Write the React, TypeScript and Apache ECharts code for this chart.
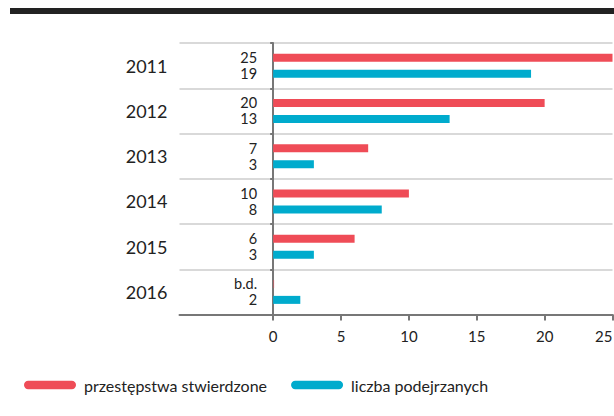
import React, { useEffect, useRef } from "react";
import * as echarts from "echarts";

const years = ["2011", "2012", "2013", "2014", "2015", "2016"];
const crimes: (number | null)[] = [25, 20, 7, 10, 6, null];
const suspects = [19, 13, 3, 8, 3, 2];
const xTicks = [0, 5, 10, 15, 20, 25];
const seriesNames = ["przestępstwa stwierdzone", "liczba podejrzanych"];
const missingLabel = "b.d.";

const RED = "#EF4C57";
const BLUE = "#00ABCD";

export default function App() {
  const ref = useRef<HTMLDivElement>(null);
  useEffect(() => {
    if (!ref.current) return;
    const chart = echarts.init(ref.current, null, { renderer: "svg" });
    const pill = "path://M4,0 H46 A4,4 0 0 1 46,8 H4 A4,4 0 0 1 4,0 Z";
    const valueLabel = {
      show: true,
      position: "left",
      distance: 16,
      fontSize: 14.5,
      lineHeight: 14,
      color: "#222",
      fontFamily: "Lato",
    };
    chart.setOption({
      animation: false,
      textStyle: { fontFamily: "Lato" },
      graphic: [
        { type: "rect", shape: { x: 10, y: 8, width: 604, height: 6 }, style: { fill: "#222" } },
      ],
      legend: {
        left: 24,
        top: 377,
        padding: 0,
        itemWidth: 52,
        itemHeight: 9,
        itemGap: 24,
        data: [
          { name: seriesNames[0], icon: pill },
          { name: seriesNames[1], icon: pill },
        ],
        textStyle: { fontSize: 16, color: "#222", fontFamily: "Lato", padding: [0, 0, 0, 3] },
      },
      grid: {
        left: 179.5,
        right: 1.5,
        top: 43,
        bottom: 101.5,
        containLabel: false,
        outerBoundsMode: "none",
      },
      xAxis: {
        type: "value",
        min: -6.9,
        max: 25,
        axisLine: { show: true, lineStyle: { color: "#777", width: 2 } },
        axisTick: { show: true, customValues: xTicks, length: 6, lineStyle: { color: "#777", width: 2 } },
        axisLabel: {
          customValues: xTicks,
          fontSize: 15,
          color: "#222",
          margin: 14,
          fontFamily: "Lato",
          alignMaxLabel: "right",
        },
        splitLine: { show: false },
      },
      yAxis: {
        type: "category",
        data: years,
        inverse: true,
        axisLine: { show: true, lineStyle: { color: "#777", width: 2 } },
        axisTick: { show: true, length: 3, lineStyle: { color: "#777", width: 2 } },
        axisLabel: { fontSize: 18, color: "#222", margin: 12, fontFamily: "Lato" },
        splitLine: { show: true, lineStyle: { color: "#ccc", width: 1.5 } },
      },
      series: [
        {
          name: seriesNames[0],
          type: "bar",
          barWidth: 8,
          barGap: "100%",
          barMinHeight: 1,
          itemStyle: { color: RED },
          data: crimes.map((v) =>
            v === null
              ? { value: 0, itemStyle: { color: "rgba(239,76,87,0.5)" }, label: { formatter: missingLabel } }
              : v
          ),
          label: valueLabel,
        },
        {
          name: seriesNames[1],
          type: "bar",
          barWidth: 8,
          barGap: "100%",
          itemStyle: { color: BLUE },
          data: suspects,
          label: valueLabel,
        },
      ],
    });
    return () => chart.dispose();
  }, []);
  return (
    <div
      ref={ref}
      style={{ position: "fixed", left: 0, top: 0, width: 614, height: 416, background: "#fff" }}
    />
  );
}
